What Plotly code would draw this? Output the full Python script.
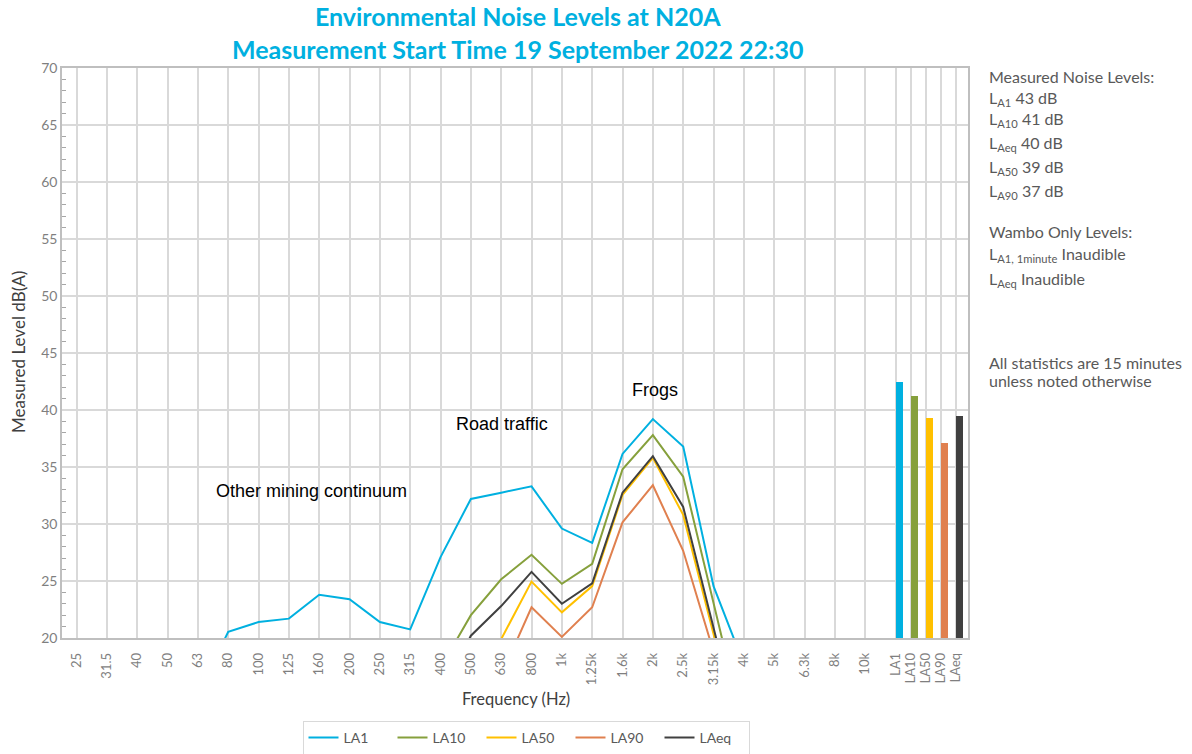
import plotly.graph_objects as go

# ---------------- data ----------------
freq_labels = ["25", "31.5", "40", "50", "63", "80", "100", "125", "160", "200", "250", "315",
               "400", "500", "630", "800", "1k", "1.25k", "1.6k", "2k", "2.5k", "3.15k",
               "4k", "5k", "6.3k", "8k", "10k"]
stat_labels = ["LA1", "LA10", "LA50", "LA90", "LAeq"]

N = None
la1 = [N, N, N, N, 15.0, 20.55, 21.4, 21.7, 23.8, 23.4, 21.4, 20.75,
       27.1, 32.2, 32.75, 33.3, 29.6, 28.35, 36.15, 39.2, 36.8, 24.55,
       17.7, N, N, N, N]
la10 = [N, N, N, N, N, N, N, N, N, N, N, N,
        17.4, 22.0, 25.15, 27.3, 24.75, 26.5, 34.8, 37.8, 34.15, 23.1,
        12.0, N, N, N, N]
la50 = [N, N, N, N, N, N, N, N, N, N, N, N,
        N, 15.0, 19.9, 24.95, 22.25, 24.55, 32.55, 35.8, 30.8, 20.35,
        10.0, N, N, N, N]
la90 = [N, N, N, N, N, N, N, N, N, N, N, N,
        N, N, 16.7, 22.7, 20.1, 22.7, 30.15, 33.4, 27.65, 18.8,
        N, N, N, N, N]
laeq = [N, N, N, N, N, N, N, N, N, N, N, N,
        15.0, 20.2, 22.8, 25.8, 23.0, 24.8, 32.75, 35.95, 31.5, 20.8,
        10.3, N, N, N, N]
overall = [42.45, 41.2, 39.3, 37.1, 39.5]   # LA1, LA10, LA50, LA90, LAeq

colors = {"LA1": "#00B0E0", "LA10": "#86A03C", "LA50": "#FFC000",
          "LA90": "#E0804F", "LAeq": "#404040"}

series = [("LA1", la1), ("LA10", la10), ("LA50", la50), ("LA90", la90), ("LAeq", laeq)]

# positions on the category axis
freq_pos = list(range(len(freq_labels)))
stat_pos = [len(freq_labels) + 0.5 * i for i in range(len(stat_labels))]

W, H = 1192, 754
L, R, T, B = 62, 968, 68, 638   # plot area edges in pixels

def px_x(px):
    return (px - L) / (R - L)

def px_y(py):
    return (B - py) / (B - T)

fig = go.Figure()

for name, vals in series:
    fig.add_trace(go.Scatter(
        x=freq_pos, y=vals, mode="lines", name=name,
        line=dict(color=colors[name], width=2),
        connectgaps=False,
    ))

fig.add_trace(go.Bar(
    x=stat_pos, y=[v - 20 for v in overall], base=20,
    marker=dict(color=[colors[s] for s in stat_labels], line=dict(width=0)),
    width=0.24, offset=0, showlegend=False, hoverinfo="skip",
))

grey_text = "#7F7F7F"
font_main = "Lato, 'Open Sans', sans-serif"

fig.update_layout(
    width=W, height=H,
    paper_bgcolor="white", plot_bgcolor="white",
    margin=dict(l=L, r=W - R, t=T, b=H - B, autoexpand=False),
    font=dict(family=font_main, color="#595959"),
    showlegend=True,
    legend=dict(
        orientation="h", x=px_x(526), xanchor="center", y=px_y(721), yanchor="top",
        bordercolor="#D9D9D9", borderwidth=1,
        font=dict(family=font_main, size=14, color="#595959"),
        itemwidth=30, traceorder="normal",
        entrywidth=44, entrywidthmode="pixels",
    ),
    bargap=0,
)

fig.update_xaxes(
    range=[-0.48, 29.39],
    tickmode="array",
    tickvals=freq_pos + stat_pos,
    ticktext=freq_labels + stat_labels,
    tickangle=-90,
    tickfont=dict(family=font_main, size=13, color=grey_text),
    showgrid=True, gridcolor="#D9D9D9", gridwidth=1.5,
    showline=True, linecolor="#BFBFBF", linewidth=1.5, mirror=True,
    ticks="", ticklabelstandoff=8,
    zeroline=False, automargin=False,
)

fig.update_yaxes(
    range=[20, 70],
    dtick=5, tick0=20,
    tickfont=dict(family=font_main, size=14, color=grey_text),
    showgrid=True, gridcolor="#D9D9D9", gridwidth=1.5,
    showline=True, linecolor="#BFBFBF", linewidth=1.5, mirror=True,
    ticks="", zeroline=False, automargin=False,
    minor=dict(dtick=1, ticks="inside", ticklen=4, tickcolor="#A6A6A6", showgrid=False),
)

# title
fig.add_annotation(
    x=px_x(518), y=px_y(32), xref="paper", yref="paper", showarrow=False,
    xanchor="center", yanchor="middle", align="center",
    text="<b>Environmental Noise Levels at N20A<br>Measurement Start Time 19 September 2022 22:30</b>",
    font=dict(family=font_main, size=25, color="#00B0E0"),
)

# axis titles
fig.add_annotation(
    x=px_x(18), y=px_y(352), xref="paper", yref="paper", showarrow=False,
    xanchor="center", yanchor="middle", textangle=-90,
    text="Measured Level dB(A)", font=dict(family=font_main, size=17, color="#404040"),
)
fig.add_annotation(
    x=px_x(516), y=px_y(699), xref="paper", yref="paper", showarrow=False,
    xanchor="center", yanchor="middle",
    text="Frequency (Hz)", font=dict(family=font_main, size=16.5, color="#404040"),
)

# in-plot annotations
notes = [("Other mining continuum", 7.74, 32.9), ("Road traffic", 14.04, 38.77), ("Frogs", 19.08, 41.75)]
for txt, xx, yy in notes:
    fig.add_annotation(x=xx, y=yy, xref="x", yref="y", text=txt, showarrow=False,
                       font=dict(family="Liberation Sans, Arial, sans-serif", size=18, color="#000000"))

# right-side text
side = [
    ("Measured Noise Levels:", 76),
    ("L<sub>A1</sub> 43 dB", 98),
    ("L<sub>A10</sub> 41 dB", 120),
    ("L<sub>Aeq</sub> 40 dB", 143),
    ("L<sub>A50</sub> 39 dB", 167),
    ("L<sub>A90</sub> 37 dB", 191),
    ("Wambo Only Levels:", 231),
    ("L<sub>A1, 1minute</sub> Inaudible", 254),
    ("L<sub>Aeq</sub> Inaudible", 279),
    ("All statistics are 15 minutes", 362),
    ("unless noted otherwise", 381),
]
for txt, py in side:
    fig.add_annotation(
        x=px_x(987), y=px_y(py), xref="paper", yref="paper",
        text=txt, showarrow=False, xanchor="left", yanchor="middle", align="left",
        font=dict(family=font_main, size=16, color="#595959"),
    )

fig.write_html("out.html", config={"displayModeBar": False})

# remove the default page margin so the figure sits at the window's top-left corner
with open("out.html", "r", encoding="utf-8") as f:
    html = f.read()
html = html.replace("<head>", "<head><style>html,body{margin:0;padding:0;overflow:hidden;}</style>", 1)
with open("out.html", "w", encoding="utf-8") as f:
    f.write(html)
